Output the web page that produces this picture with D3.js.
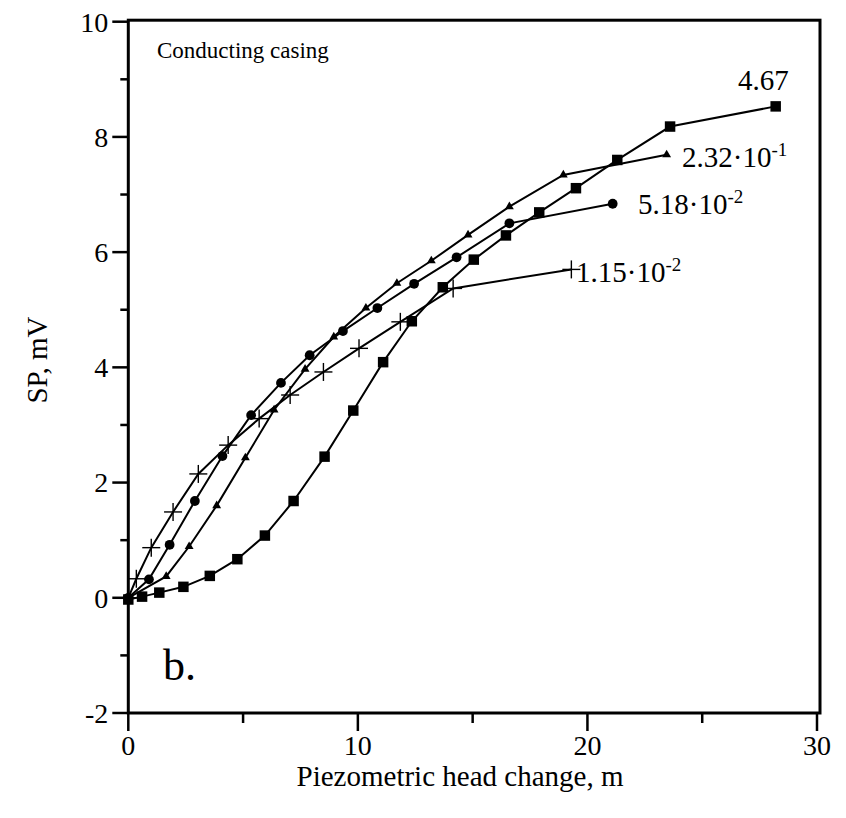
<!DOCTYPE html>
<html>
<head>
<meta charset="utf-8">
<script src="https://cdn.jsdelivr.net/npm/d3@7"></script>
<style>
  body { margin: 0; background: #fff; }
  svg text { font-family: "Liberation Serif", "Times New Roman", serif; fill: #000; }
</style>
</head>
<body>
<div id="chart"></div>
<script>
// data (x: piezometric head change, m; y: SP, mV)
const sqX = [0, 0.6, 1.35, 2.4, 3.55, 4.75, 5.95, 7.2, 8.55, 9.8, 11.1, 12.35, 13.7, 15.05, 16.45, 17.9, 19.5, 21.3, 23.6, 28.2];
const sqY = [-0.03, 0.02, 0.09, 0.19, 0.38, 0.67, 1.08, 1.68, 2.45, 3.25, 4.09, 4.8, 5.39, 5.87, 6.29, 6.69, 7.11, 7.6, 8.18, 8.53];

const trX = [0, 1.65, 2.65, 3.85, 5.1, 6.35, 7.7, 8.95, 10.35, 11.7, 13.2, 14.8, 16.6, 18.95, 23.45];
const trY = [0, 0.37, 0.89, 1.6, 2.43, 3.26, 3.97, 4.53, 5.03, 5.46, 5.85, 6.3, 6.79, 7.34, 7.69];

const ciX = [0, 0.9, 1.8, 2.9, 4.1, 5.35, 6.65, 7.9, 9.35, 10.85, 12.45, 14.3, 16.6, 21.1];
const ciY = [0, 0.32, 0.92, 1.68, 2.46, 3.17, 3.73, 4.21, 4.63, 5.03, 5.45, 5.91, 6.5, 6.84];

const crX = [0, 0.35, 1.0, 1.95, 3.05, 4.35, 5.7, 7.05, 8.5, 10.05, 11.85, 14.15, 19.3];
const crY = [0, 0.33, 0.87, 1.49, 2.15, 2.65, 3.11, 3.52, 3.92, 4.33, 4.79, 5.37, 5.7];

const xTicks = [0, 10, 20, 30];
const xMinor = [5, 15, 25];
const yTicks = [-2, 0, 2, 4, 6, 8, 10];
const yMinor = [-1, 1, 3, 5, 7, 9];

// curve labels: mantissa, exponent (null = plain number)
const labelMain = ["4.67", "2.32·10", "5.18·10", "1.15·10"];
const labelExp = [null, "-1", "-2", "-2"];

const W = 846, H = 818;
const margin = { top: 21.7, right: 26, bottom: 105, left: 128.3 };
const width = W - margin.left - margin.right,
      height = H - margin.top - margin.bottom;

const svg = d3.select("#chart").append("svg")
    .attr("width", W).attr("height", H)
    .attr("font-family", "Liberation Serif, Times New Roman, serif");
const g = svg.append("g")
    .attr("transform", `translate(${margin.left},${margin.top})`);

const x = d3.scaleLinear().domain([0, 30]).range([0, width - 3]);
const y = d3.scaleLinear().domain([-2, 10]).range([height, 0]);

// frame
g.append("rect")
    .attr("x", 0).attr("y", -1.5)
    .attr("width", width).attr("height", height + 1.5)
    .attr("fill", "none").attr("stroke", "#000").attr("stroke-width", 3);

// x axis ticks
g.selectAll(".xmaj").data(xTicks).join("line")
    .attr("x1", d => x(d)).attr("x2", d => x(d))
    .attr("y1", height).attr("y2", height + 18)
    .attr("stroke", "#000").attr("stroke-width", 2.5);
g.selectAll(".xmin").data(xMinor).join("line")
    .attr("x1", d => x(d)).attr("x2", d => x(d))
    .attr("y1", height).attr("y2", height + 10)
    .attr("stroke", "#000").attr("stroke-width", 2.5);
g.selectAll(".xlab").data(xTicks).join("text")
    .attr("x", d => x(d)).attr("y", height + 42)
    .attr("text-anchor", "middle")
    .style("font-size", "28px")
    .text(d => d);

// y axis ticks
g.selectAll(".ymaj").data(yTicks).join("line")
    .attr("x1", -16).attr("x2", 0)
    .attr("y1", d => y(d)).attr("y2", d => y(d))
    .attr("stroke", "#000").attr("stroke-width", 2.5);
g.selectAll(".ymin").data(yMinor).join("line")
    .attr("x1", -8).attr("x2", 0)
    .attr("y1", d => y(d)).attr("y2", d => y(d))
    .attr("stroke", "#000").attr("stroke-width", 2.5);
g.selectAll(".ylab").data(yTicks).join("text")
    .attr("x", -20).attr("y", d => y(d))
    .attr("dy", "0.35em")
    .attr("text-anchor", "end")
    .style("font-size", "28px")
    .text(d => d);

// axis titles
svg.append("text")
    .attr("x", 460).attr("y", 786)
    .attr("text-anchor", "middle")
    .style("font-size", "29px")
    .text("Piezometric head change, m");
svg.append("text")
    .attr("transform", "translate(47,360) rotate(-90)")
    .attr("text-anchor", "middle")
    .style("font-size", "29px")
    .text("SP, mV");

// lines and markers
const line = d3.line().x(d => x(d[0])).y(d => y(d[1]));
const series = [
    { xs: sqX, ys: sqY, kind: "square" },
    { xs: trX, ys: trY, kind: "triangle" },
    { xs: ciX, ys: ciY, kind: "circle" },
    { xs: crX, ys: crY, kind: "cross" }
];
series.forEach(s => {
    const pts = s.xs.map((v, i) => [v, s.ys[i]]);
    g.append("path")
        .datum(pts)
        .attr("d", line)
        .attr("fill", "none")
        .attr("stroke", "#000")
        .attr("stroke-width", 2);

    if (s.kind === "cross") {
        // thin plus signs
        g.selectAll(null).data(pts).join("g")
            .attr("transform", d => `translate(${x(d[0])},${y(d[1])})`)
            .each(function () {
                const el = d3.select(this);
                el.append("line").attr("x1", -9).attr("x2", 9).attr("y1", 0).attr("y2", 0)
                    .attr("stroke", "#000").attr("stroke-width", 1.4);
                el.append("line").attr("x1", 0).attr("x2", 0).attr("y1", -9).attr("y2", 9)
                    .attr("stroke", "#000").attr("stroke-width", 1.4);
            });
    } else {
        let sym;
        if (s.kind === "square") sym = d3.symbol(d3.symbolSquare, 110);
        if (s.kind === "triangle") sym = d3.symbol(d3.symbolTriangle, 34);
        if (s.kind === "circle") sym = d3.symbol(d3.symbolCircle, 75);
        g.selectAll(null).data(pts).join("path")
            .attr("d", sym)
            .attr("transform", d => `translate(${x(d[0])},${y(d[1])})`)
            .attr("fill", "#000");
    }
});

// curve labels
const labelPos = [[738, 90], [682, 167], [638, 214], [576, 282]];
labelMain.forEach((t, i) => {
    const txt = svg.append("text")
        .attr("x", labelPos[i][0]).attr("y", labelPos[i][1])
        .style("font-size", "29px");
    txt.append("tspan").text(t);
    if (labelExp[i]) {
        txt.append("tspan")
            .attr("dy", "-11")
            .style("font-size", "19px")
            .text(labelExp[i]);
    }
});

// annotations
svg.append("text")
    .attr("x", 157).attr("y", 58)
    .style("font-size", "23px")
    .text("Conducting casing");
svg.append("text")
    .attr("x", 163).attr("y", 680)
    .style("font-size", "44px")
    .text("b.");
</script>
</body>
</html>
